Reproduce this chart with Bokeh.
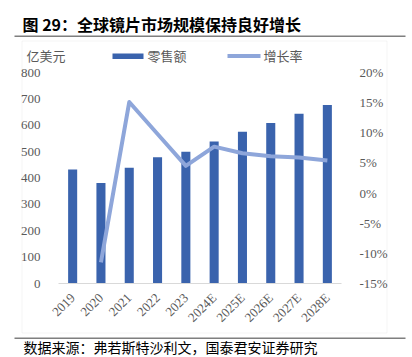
from bokeh.plotting import figure
from bokeh.models import (Range1d, LinearAxis, FixedTicker, PrintfTickFormatter,
                          Label, BoxAnnotation, ColumnDataSource)
from bokeh.embed import file_html
from bokeh.resources import INLINE
import math

# ---- data ----
years = ["2019", "2020", "2021", "2022", "2023", "2024E", "2025E", "2026E", "2027E", "2028E"]
retail = [432, 381, 439, 479, 500, 538, 575, 609, 644, 677]          # 亿美元
growth_years = ["2020", "2021", "2022", "2023", "2024E", "2025E", "2026E", "2027E", "2028E"]
growth = [-11.5, 15.1, 9.8, 4.5, 7.7, 6.6, 6.1, 5.9, 5.4]           # %
left_ticks = [0, 100, 200, 300, 400, 500, 600, 700, 800]
right_ticks = [-15, -10, -5, 0, 5, 10, 15, 20]

W, H = 412, 357
# plot-area pixel box inside the canvas
FL, FR, FT, FB = 58, 341, 72, 283
N = len(years)
LMIN, LMAX = 0, 800
RMIN, RMAX = -15, 20

BAR = "#3A63AD"
LINE = "#8EA6DA"
GREY = "#595959"

# ranges chosen so the frame covers the whole canvas and the data area sits at FL..FR, FT..FB
xpp = N / (FR - FL)
lpp = (LMAX - LMIN) / (FB - FT)
rpp = (RMAX - RMIN) / (FB - FT)
x_range = Range1d(-FL * xpp, N + (W - FR) * xpp)
y_range = Range1d(LMIN - (H - FB) * lpp, LMAX + FT * lpp)

p = figure(width=W, height=H, output_backend="svg", toolbar_location=None,
           x_range=x_range, y_range=y_range,
           min_border=0, min_border_left=0, min_border_right=0,
           min_border_top=0, min_border_bottom=0)
p.extra_y_ranges = {"pct": Range1d(RMIN - (H - FB) * rpp, RMAX + FT * rpp)}
p.outline_line_color = None
p.xgrid.visible = False
p.ygrid.visible = False
p.background_fill_color = "white"
p.border_fill_color = "white"

xs = [i + 0.5 for i in range(N)]
src = ColumnDataSource(dict(x=xs, top=retail))
p.vbar(x="x", top="top", width=0.32, bottom=0, source=src, fill_color=BAR, line_color=None)

gx = [years.index(y) + 0.5 for y in growth_years]
p.line(gx, growth, y_range_name="pct", line_color=LINE, line_width=4, line_join="round")

# axes (fixed inside the canvas)
xa = p.xaxis[0]
xa.fixed_location = 0
xa.bounds = (0, N)
xa.ticker = FixedTicker(ticks=xs)
xa.major_label_overrides = {x: y for x, y in zip(xs, years)}
xa.major_label_orientation = math.pi / 4
xa.axis_line_color = "#D9D9D9"
xa.major_tick_line_color = None
xa.minor_tick_line_color = None
xa.major_label_text_font = "Liberation Serif"
xa.major_label_text_font_size = "13px"
xa.major_label_text_color = GREY
xa.major_label_standoff = 6

ya = p.yaxis[0]
ya.fixed_location = 0
ya.bounds = (LMIN, LMAX)
ya.ticker = FixedTicker(ticks=left_ticks)
ya.axis_line_color = None
ya.major_tick_line_color = None
ya.minor_tick_line_color = None
ya.major_label_text_font = "Liberation Serif"
ya.major_label_text_font_size = "13px"
ya.major_label_text_color = GREY
ya.major_label_standoff = 12

ra = LinearAxis(y_range_name="pct", ticker=FixedTicker(ticks=right_ticks),
                formatter=PrintfTickFormatter(format="%d%%"))
ra.fixed_location = N
ra.bounds = (RMIN, RMAX)
ra.axis_line_color = None
ra.major_tick_line_color = None
ra.minor_tick_line_color = None
ra.major_label_text_font = "Liberation Serif"
ra.major_label_text_font_size = "13px"
ra.major_label_text_color = GREY
ra.major_label_standoff = 12
p.add_layout(ra, "right")

# ---- decorations in screen coordinates (frame == canvas, y measured upward) ----
def box(l, t, r, b, fill=None, line=None):
    p.add_layout(BoxAnnotation(left=l, right=r, top=H - t, bottom=H - b,
                               left_units="screen", right_units="screen",
                               top_units="screen", bottom_units="screen",
                               fill_color=fill if fill else "white", fill_alpha=1 if fill else 0,
                               line_color=line, line_width=1, level="underlay"))

def label(x, y, text, size, color, font="Noto Sans CJK SC", style="normal", align="left", baseline="middle"):
    p.add_layout(Label(x=x, y=H - y, x_units="screen", y_units="screen", text=text,
                       text_font=font, text_font_size=size, text_color=color,
                       text_font_style=style, text_align=align, text_baseline=baseline))

# chart border box
box(21.5, 40.5, 386.5, 332.5, line="#D9D9D9")
# title rule and footer rule
box(14, 35, 405, 36.5, fill="#7F7F7F")
box(14, 337, 405, 338.5, fill="#7F7F7F")

label(22, 23, "图 29：全球镜片市场规模保持良好增长", "16px", "#000000", style="bold")
label(23, 356.5, "数据来源：弗若斯特沙利文，国泰君安证券研究", "14px", "#000000", baseline="bottom")
label(26, 55, "亿美元", "13px", GREY)

# legend
box(112, 53, 143, 58.5, fill=BAR)
label(147, 55, "零售额", "13px", GREY)
box(227, 53.5, 260, 57.5, fill=LINE)
label(263, 55, "增长率", "13px", GREY)

open("out.html", "w").write(file_html(p, INLINE))
